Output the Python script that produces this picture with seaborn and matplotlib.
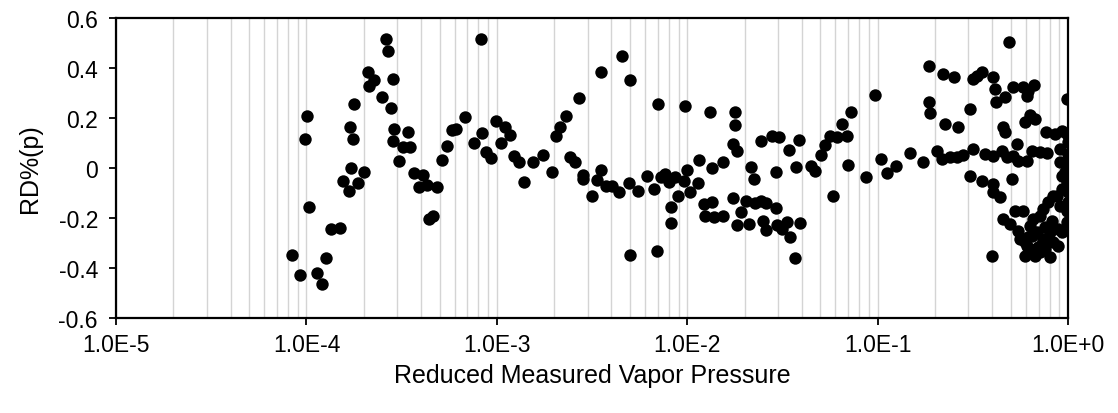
import numpy as np
import pandas as pd
import matplotlib
matplotlib.use("Agg")
import matplotlib.pyplot as plt
import seaborn as sns
from matplotlib.ticker import LogLocator, NullFormatter

# log10 of reduced measured vapor pressure, and RD%(p)
log10_pressure = [
    -4.075, -4.032, -3.996, -4.009, -3.988, -3.946, -3.918, -3.896, -3.870, -3.824,
    -3.809, -3.778, -3.765, -3.729, -3.699, -3.769, -3.757, -3.748, -3.678, -3.647,
    -3.673, -3.580, -3.573, -3.547, -3.603, -3.554, -3.538, -3.547, -3.466, -3.492,
    -3.458, -3.515, -3.437, -3.389, -3.410, -3.366, -3.314, -3.358, -3.335, -3.288,
    -3.261, -3.235, -3.213, -3.169, -3.122, -3.076, -3.081, -3.057, -3.030, -3.003,
    -2.955, -2.932, -2.978, -2.911, -2.883, -2.857, -2.808, -2.760, -2.712, -2.689,
    -2.667, -2.636, -2.571, -2.616, -2.588, -2.547, -2.547, -2.500, -2.455, -2.345,
    -2.301, -2.474, -2.451, -2.428, -2.394, -2.358, -2.306, -2.261, -2.301, -2.159,
    -2.151, -2.210, -2.175, -2.137, -2.115, -2.094, -2.063, -2.019, -2.086, -2.086,
    -2.046, -2.001, -1.987, -2.014, -1.941, -1.938, -1.879, -1.914, -1.870, -1.905,
    -1.858, -1.814, -1.871, -1.813, -1.748, -1.748, -1.762, -1.736, -1.762, -1.719,
    -1.736, -1.678, -1.689, -1.643, -1.614, -1.584, -1.533, -1.600, -1.584, -1.528,
    -1.503, -1.474, -1.459, -1.407, -1.433, -1.666, -1.647, -1.610, -1.554, -1.517,
    -1.463, -1.412, -1.535, -1.429, -1.349, -1.328, -1.298, -1.276, -1.249, -1.214,
    -1.185, -1.162, -1.140, -1.153, -1.237, -1.062, -1.013, -0.982, -0.952, -0.903,
    -0.829, -0.760, -0.728, -0.730, -0.724, -0.656, -0.597, -0.646, -0.576, -0.686,
    -0.663, -0.619, -0.584, -0.554, -0.514, -0.514, -0.497, -0.477, -0.451, -0.392,
    -0.383, -0.378, -0.331, -0.287, -0.235, -0.208, -0.178, -0.217, -0.308, -0.340,
    -0.331, -0.199, -0.173, -0.226, -0.004, -0.497, -0.436, -0.392, -0.348, -0.322,
    -0.269, -0.287, -0.261, -0.217, -0.191, -0.147, -0.109, -0.116, -0.068, -0.033,
    -0.007, -0.001, -0.001, -0.007, -0.016, -0.007, -0.001, -0.001, -0.007, -0.042,
    -0.042, -0.033, -0.033, -0.007, -0.453, -0.392, -0.392, -0.357, -0.296, -0.400,
    -0.340, -0.278, -0.235, -0.304, -0.261, -0.252, -0.226, -0.226, -0.199, -0.173,
    -0.147, -0.094, -0.199, -0.164, -0.130, -0.182, -0.147, -0.130, -0.104, -0.077,
    -0.060, -0.042, -0.051, -0.033, -0.094, -0.077, -0.051, -0.121, -0.217, -0.191,
    -0.137, -0.209, -0.119, -0.083, -0.157,
]
rd_percent = [
    -0.348, -0.430, 0.208, 0.116, -0.157, -0.422, -0.464, -0.361, -0.244, -0.238,
    -0.051, -0.091, -0.001, -0.060, -0.015, 0.163, 0.116, 0.256, 0.385, 0.353,
    0.329, 0.516, 0.469, 0.356, 0.283, 0.240, 0.156, 0.109, 0.145, 0.083,
    0.085, 0.029, -0.021, -0.027, -0.077, -0.067, -0.075, -0.204, -0.193, 0.032,
    0.087, 0.152, 0.156, 0.203, 0.099, 0.139, 0.518, 0.063, 0.039, 0.188,
    0.163, 0.134, 0.099, 0.049, 0.024, -0.057, 0.025, 0.053, -0.015, 0.129,
    0.165, 0.209, 0.279, 0.044, 0.026, -0.026, -0.044, -0.113, 0.383, 0.449,
    0.353, -0.048, -0.008, -0.070, -0.073, -0.095, -0.061, -0.091, -0.347, -0.333,
    0.255, -0.030, -0.084, -0.036, -0.024, -0.056, -0.036, -0.051, -0.156, -0.218,
    -0.111, -0.009, -0.097, 0.249, -0.060, 0.034, 0.223, -0.144, -0.136, -0.191,
    -0.197, -0.192, 0.001, 0.025, 0.226, 0.172, 0.095, 0.069, -0.120, -0.177,
    -0.229, -0.224, -0.133, -0.141, -0.131, -0.139, -0.159, -0.211, -0.247, -0.229,
    -0.244, -0.217, -0.277, -0.220, -0.361, 0.006, -0.044, 0.108, 0.127, 0.123,
    0.073, 0.112, -0.015, 0.003, 0.007, -0.011, 0.053, 0.092, 0.129, 0.123,
    0.176, 0.129, 0.223, 0.012, -0.111, -0.035, 0.294, 0.036, -0.021, 0.009,
    0.059, 0.023, 0.410, 0.265, 0.221, 0.376, 0.364, 0.176, 0.165, 0.069,
    0.036, 0.045, 0.045, 0.052, 0.236, -0.033, 0.356, 0.369, 0.383, 0.363,
    0.316, 0.263, 0.283, 0.323, 0.323, 0.309, 0.332, 0.289, 0.503, 0.163,
    0.143, 0.212, 0.196, 0.183, 0.276, 0.076, 0.056, 0.049, 0.069, 0.043,
    0.096, 0.049, 0.029, 0.029, 0.069, 0.063, 0.060, 0.143, 0.136, 0.149,
    0.136, 0.103, 0.056, 0.023, -0.017, -0.057, -0.097, -0.137, -0.217, 0.076,
    0.023, -0.031, -0.084, -0.171, -0.051, -0.064, -0.095, -0.115, -0.044, -0.353,
    -0.204, -0.171, -0.171, -0.224, -0.251, -0.284, -0.297, -0.351, -0.324, -0.351,
    -0.337, -0.357, -0.231, -0.257, -0.284, -0.204, -0.191, -0.164, -0.137, -0.111,
    -0.111, -0.151, -0.244, -0.255, -0.257, -0.297, -0.311, -0.324, -0.311, -0.271,
    -0.304, -0.276, -0.236, -0.212, -0.316,
]

x_ticks = [1e-5, 1e-4, 1e-3, 1e-2, 1e-1, 1e0]
x_tick_labels = ["1.0E-5", "1.0E-4", "1.0E-3", "1.0E-2", "1.0E-1", "1.0E+0"]
y_ticks = [-0.6, -0.4, -0.2, 0, 0.2, 0.4, 0.6]
y_tick_labels = ["-0.6", "-0.4", "-0.2", "0", "0.2", "0.4", "0.6"]

df = pd.DataFrame({
    "pressure": 10.0 ** np.array(log10_pressure),
    "rd": rd_percent,
})

sns.set_style("white")
plt.rcParams["font.family"] = ["Liberation Sans", "DejaVu Sans"]
plt.rcParams["xtick.bottom"] = True
plt.rcParams["ytick.left"] = True
plt.rcParams["text.color"] = "black"
plt.rcParams["axes.labelcolor"] = "black"
plt.rcParams["xtick.color"] = "black"
plt.rcParams["ytick.color"] = "black"

fig = plt.figure(figsize=(11.18, 4.14), dpi=100)
ax = fig.add_axes([0.1038, 0.2295, 0.8515, 0.7245])

ax.set_xscale("log")
ax.set_xlim(1e-5, 1e0)
ax.set_ylim(-0.6, 0.6)

ax.xaxis.set_minor_locator(LogLocator(base=10, subs=np.arange(2, 10)))
ax.xaxis.set_minor_formatter(NullFormatter())
ax.grid(True, which="both", axis="x", color="#d4d4d4", linewidth=1.0)
ax.grid(False, axis="y")
ax.set_axisbelow(True)

sns.scatterplot(data=df, x="pressure", y="rd", ax=ax, color="black",
                s=80, edgecolor="black", linewidth=0, zorder=3, legend=False)

ax.set_xticks(x_ticks)
ax.set_xticklabels(x_tick_labels)
ax.set_yticks(y_ticks)
ax.set_yticklabels(y_tick_labels)
ax.tick_params(axis="both", which="major", direction="out", length=5,
               width=1.3, colors="black", labelsize=16.5, bottom=True, left=True)
ax.tick_params(axis="x", which="major", pad=6)
ax.tick_params(axis="y", which="major", pad=8)
ax.tick_params(axis="x", which="minor", length=0)

for sp in ax.spines.values():
    sp.set_visible(True)
    sp.set_color("black")
    sp.set_linewidth(1.6)

ax.set_xlabel("Reduced Measured Vapor Pressure", fontsize=18, labelpad=5,
              color="black")
ax.set_ylabel("RD%(p)", fontsize=18, labelpad=12, color="black")

fig.savefig("out.png", dpi=100)
